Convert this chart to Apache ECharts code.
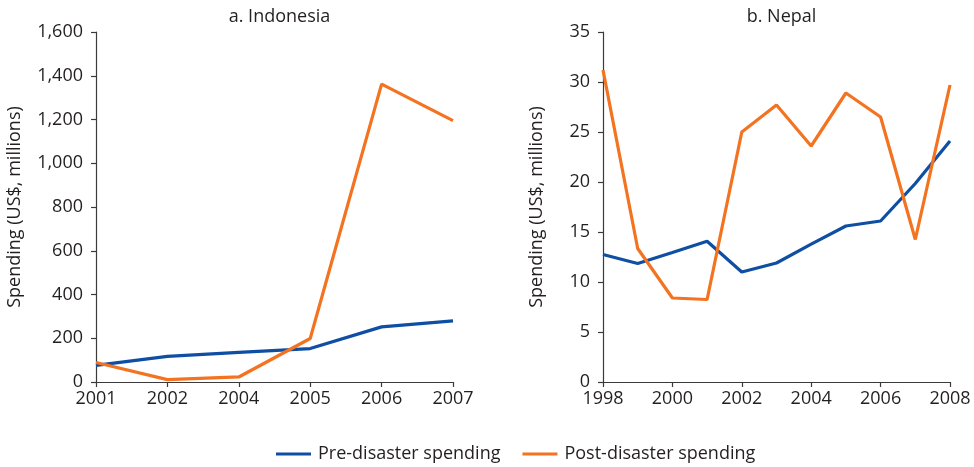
<!DOCTYPE html>
<html><head><meta charset="utf-8">
<script src="https://cdn.jsdelivr.net/npm/echarts@6/dist/echarts.min.js"></script>
<style>html,body{margin:0;padding:0;background:#fff}#c{width:974px;height:467px}</style>
</head><body><div id="c"></div>
<script>
const indoYears = ['2001','2002','2004','2005','2006','2007'];
const indoPre = [76, 117, 135, 153, 252, 279];
const indoPost = [89, 11, 23, 199, 1362, 1195];
const nepalYears = [1998,1999,2000,2001,2002,2003,2004,2005,2006,2007,2008];
const nepalPre = [12.75, 11.85, 12.95, 14.08, 11.0, 11.9, 13.78, 15.6, 16.1, 19.85, 24.1];
const nepalPost = [31.2, 13.35, 8.4, 8.25, 25.0, 27.7, 23.6, 28.9, 26.5, 14.25, 29.7];
const indoTicks = [0,200,400,600,800,1000,1200,1400,1600];
const nepalTicks = [0,5,10,15,20,25,30,35];

const FONT = '"Open Sans", sans-serif';
const TXT = '#231f20';
const BLUE = '#0f4fa3';
const ORANGE = '#f47321';
const axisLine = {show:true, lineStyle:{color:'#3a3a3a', width:1.2}};
const axisTick = {show:true, inside:false, length:5, lineStyle:{color:'#3a3a3a', width:1.2}};
const lbl = {color:TXT, fontFamily:FONT, fontSize:18};

const chart = echarts.init(document.getElementById('c'), null, {renderer:'canvas'});
chart.setOption({
  animation:false,
  textStyle:{fontFamily:FONT},
  title:[
    {text:'a. Indonesia', left:274.5, top:3, textAlign:'center', textStyle:{color:TXT, fontFamily:FONT, fontSize:18, fontWeight:'normal'}},
    {text:'b. Nepal', left:776.5, top:3, textAlign:'center', textStyle:{color:TXT, fontFamily:FONT, fontSize:18, fontWeight:'normal'}}
  ],
  legend:{
    top:440, left:271, itemWidth:35, itemHeight:3, itemGap:22,
    icon:'rect',
    textStyle:{color:TXT, fontFamily:FONT, fontSize:18, padding:[0,0,0,2]},
    data:['Pre-disaster spending','Post-disaster spending']
  },
  grid:[
    {left:96, right:521, top:32, bottom:85},
    {left:603, right:24, top:32, bottom:85}
  ],
  xAxis:[
    {gridIndex:0, type:'category', data:indoYears, boundaryGap:false,
     axisLine, axisTick:{...axisTick, alignWithLabel:true}, axisLabel:{...lbl, margin:8}, splitLine:{show:false}},
    {gridIndex:1, type:'value', min:1998, max:2008, interval:2,
     axisLine, axisTick, axisLabel:{...lbl, margin:8, formatter:v=>String(v)}, splitLine:{show:false}}
  ],
  yAxis:[
    {gridIndex:0, type:'value', min:indoTicks[0], max:indoTicks[indoTicks.length-1], interval:200,
     axisLine, axisTick, axisLabel:{...lbl, margin:13, formatter:v=>v.toLocaleString('en-US')}, splitLine:{show:false},
     name:'Spending (US$, millions)', nameLocation:'middle', nameGap:72,
     nameTextStyle:{color:TXT, fontFamily:FONT, fontSize:18}},
    {gridIndex:1, type:'value', min:nepalTicks[0], max:nepalTicks[nepalTicks.length-1], interval:5,
     axisLine, axisTick, axisLabel:{...lbl, margin:13}, splitLine:{show:false},
     name:'Spending (US$, millions)', nameLocation:'middle', nameGap:57,
     nameTextStyle:{color:TXT, fontFamily:FONT, fontSize:18}}
  ],
  series:[
    {name:'Pre-disaster spending', type:'line', xAxisIndex:0, yAxisIndex:0, data:indoPre,
     showSymbol:false, lineStyle:{color:BLUE, width:3.2}, itemStyle:{color:BLUE}},
    {name:'Post-disaster spending', type:'line', xAxisIndex:0, yAxisIndex:0, data:indoPost,
     showSymbol:false, lineStyle:{color:ORANGE, width:3.2}, itemStyle:{color:ORANGE}},
    {name:'Pre-disaster spending', type:'line', xAxisIndex:1, yAxisIndex:1,
     data:nepalYears.map((y,i)=>[y, nepalPre[i]]),
     showSymbol:false, lineStyle:{color:BLUE, width:3.2}, itemStyle:{color:BLUE}},
    {name:'Post-disaster spending', type:'line', xAxisIndex:1, yAxisIndex:1,
     data:nepalYears.map((y,i)=>[y, nepalPost[i]]),
     showSymbol:false, lineStyle:{color:ORANGE, width:3.2}, itemStyle:{color:ORANGE}}
  ]
});
</script></body></html>
